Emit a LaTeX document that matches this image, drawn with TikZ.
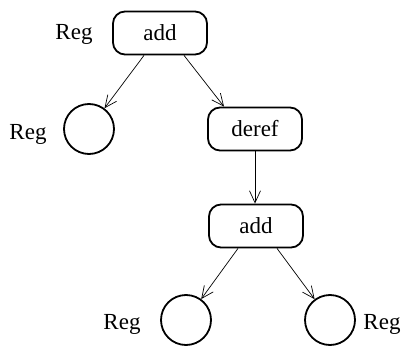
\documentclass[tikz,border=0pt]{standalone}
\usepackage{fontspec}
\setmainfont{Liberation Serif}
\usetikzlibrary{arrows.meta}
\begin{document}
\begin{tikzpicture}[x=1pt,y=1pt,
  font=\fontsize{23}{27}\selectfont,
  opbox/.style={draw,line width=1.8pt,rounded corners=12pt,minimum width=94pt,minimum height=43pt,inner sep=0pt},
  leaf/.style={draw,circle,line width=1.8pt,minimum size=50pt,inner sep=0pt},
  lbl/.style={anchor=base,inner sep=0pt},
  conn/.style={line width=0.7pt,-{Straight Barb[length=12pt,width=11pt,line width=0.7pt]}}]
\useasboundingbox (0,0) rectangle (406,-347);
\node[opbox] (add1) at (160,-33) {add};
\node[leaf] (c1) at (89,-129) {};
\node[opbox] (deref) at (255,-129) {deref};
\node[opbox] (add2) at (256,-226) {add};
\node[leaf] (c2) at (186,-320) {};
\node[leaf] (c3) at (330,-320) {};
\node[lbl] (r1) at (74,-40) {Reg};
\node[lbl] (r2) at (28,-140) {Reg};
\node[lbl] (r3) at (122,-329) {Reg};
\node[lbl] (r4) at (382,-329) {Reg};
\draw[conn] ([xshift=-16pt]add1.south) -- (c1);
\draw[conn] ([xshift=24pt]add1.south) -- ([xshift=-31pt]deref.north);
\draw[conn] (deref.south) -- (deref.south |- add2.north);
\draw[conn] ([xshift=-18pt]add2.south) -- (c2);
\draw[conn] ([xshift=21pt]add2.south) -- (c3);
\end{tikzpicture}
\end{document}
